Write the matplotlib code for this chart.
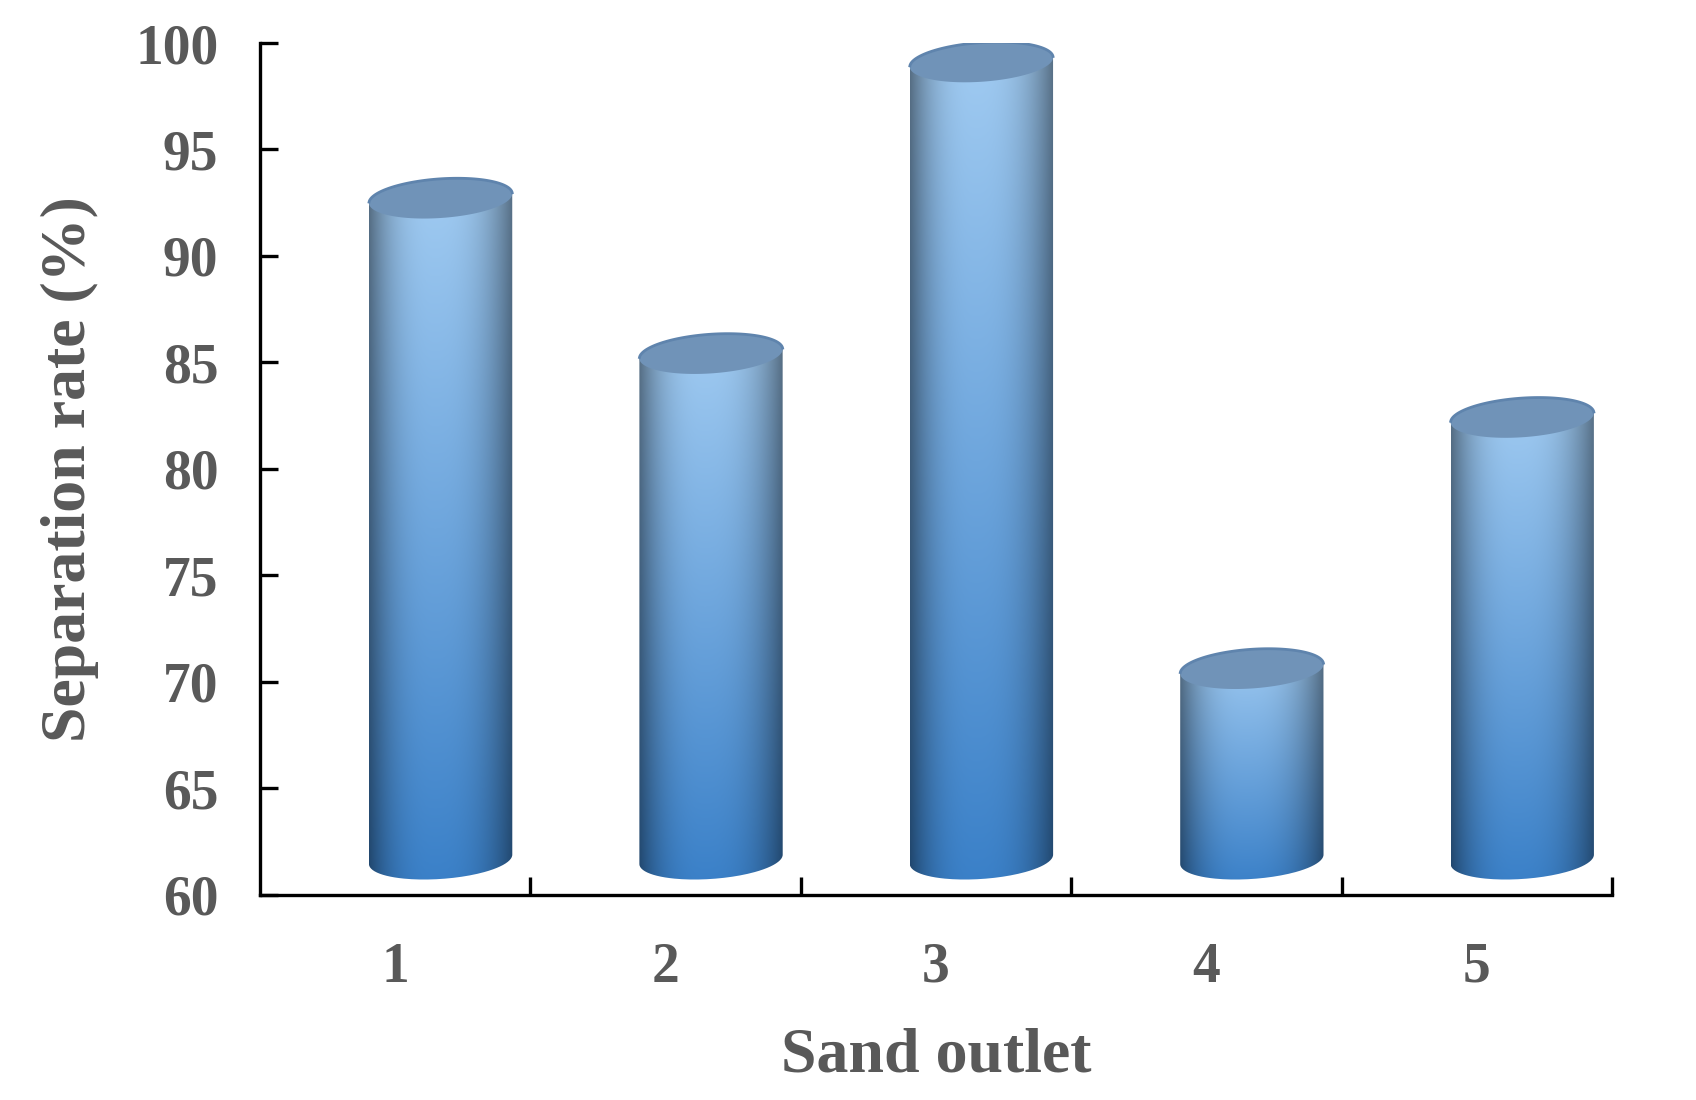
import numpy as np
import matplotlib.pyplot as plt
from matplotlib.path import Path
from matplotlib.patches import PathPatch
from matplotlib.colors import to_rgb

plt.rcParams['font.family'] = 'serif'
plt.rcParams['font.serif'] = ['Liberation Serif', 'DejaVu Serif']
plt.rcParams['font.weight'] = 'bold'

# data
outlets = ['1', '2', '3', '4', '5']
rates = [92.7, 85.4, 99.1, 70.6, 82.4]

yticks = [60, 65, 70, 75, 80, 85, 90, 95, 100]

# cylinder look (3D Excel-style)
floor = 61.65      # bottom ellipse centre, shifted up by the 3D depth
shift = 0.168      # bars sit right of the category centre
half_w = 0.265
ell_h = 0.92       # vertical semi-axis of the ellipses (data units)
tilt = 0.22        # right side of ellipse higher than the left

grey = '#595959'

fig = plt.figure(figsize=(16.96, 11.0), dpi=100)
ax = fig.add_axes([0.1533, 0.1868, 0.7972, 0.7741])
ax.set_xlim(0.5, 5.5)
ax.set_ylim(60, 100)


def ellipse_pts(cx, cy, t):
    return cx + half_w * np.cos(t), cy + ell_h * np.sin(t) + tilt * np.cos(t)


def body_image(n=200):
    top = np.array(to_rgb('#a2ccf2'))
    bot = np.array(to_rgb('#3a80c8'))
    u = np.linspace(0, 1, n)
    v = np.linspace(0, 1, n)[:, None]
    # horizontal shading, brightest a little left of centre
    d = np.where(u < 0.46, (0.46 - u) / 0.46, (u - 0.46) / 0.54)
    shade = 1 - 0.45 * d ** 2.6
    base = bot[None, None, :] * (1 - v[..., None]) + top[None, None, :] * v[..., None]
    img = base * shade[None, :, None]
    return np.clip(img, 0, 1)


img = body_image()

for i, val in enumerate(rates):
    cx = i + 1 + shift
    t_low = np.linspace(np.pi, 2 * np.pi, 80)
    t_up = np.linspace(0, np.pi, 80)
    bx, by = ellipse_pts(cx, floor, t_low)
    tx, ty = ellipse_pts(cx, val, t_up)
    xs = np.concatenate([bx, tx, [bx[0]]])
    ys = np.concatenate([by, ty, [by[0]]])
    body = PathPatch(Path(np.column_stack([xs, ys])), facecolor='none', edgecolor='none')
    ax.add_patch(body)
    im = ax.imshow(img, extent=[cx - half_w, cx + half_w, floor - 1.2, val + 1.2],
                   origin='lower', aspect='auto', zorder=2, interpolation='bilinear')
    im.set_clip_path(body)

    # top cap
    t = np.linspace(0, 2 * np.pi, 160)
    cx_, cy_ = ellipse_pts(cx, val, t)
    ax.fill(cx_, cy_, color='#7093b8', zorder=3, lw=0)
    rx, ry = ellipse_pts(cx, val, np.linspace(0.05, np.pi - 0.05, 80))
    ax.plot(rx, ry, color='#5f84ad', lw=2, zorder=3)

ax.set_xlim(0.5, 5.5)
ax.set_ylim(60, 100)

# axes styling
for s in ['top', 'right']:
    ax.spines[s].set_visible(False)
for s in ['left', 'bottom']:
    ax.spines[s].set_linewidth(2.4)
    ax.spines[s].set_color('black')

ax.set_yticks(yticks)
ax.set_yticklabels([str(v) for v in yticks], fontsize=40, fontweight='bold', color=grey)
ax.tick_params(axis='y', direction='in', length=13, width=2.4, pad=30)

ax.set_xticks(np.arange(1.5, 6, 1.0))
ax.set_xticklabels([])
ax.tick_params(axis='x', which='major', direction='in', length=13, width=2.4)
ax.set_xticks(np.arange(1, 6), minor=True)
ax.set_xticklabels(outlets, minor=True, fontsize=40, fontweight='bold', color=grey)
ax.tick_params(axis='x', which='minor', length=0, pad=34)

ax.set_xlabel('Sand outlet', fontsize=46, fontweight='bold', color=grey, labelpad=24)
ax.set_ylabel('Separation rate (%)', fontsize=46, fontweight='bold', color=grey, labelpad=26)

fig.savefig('out.png', dpi=100)
